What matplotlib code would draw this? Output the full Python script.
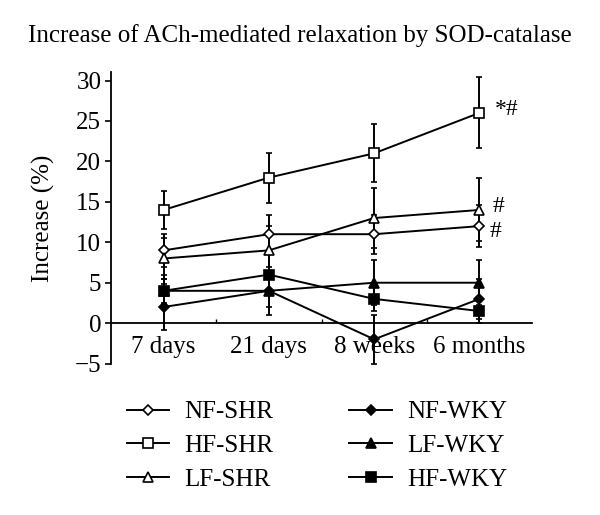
import matplotlib.pyplot as plt
from matplotlib.lines import Line2D

plt.rcParams['font.family'] = ['Liberation Serif', 'DejaVu Serif']

# time points
categories = ['7 days', '21 days', '8 weeks', '6 months']

# mean increase (%) and error for each group
nf_shr = [9, 11, 11, 12]
nf_shr_err = [2.0, 2.4, 2.4, 2.6]
hf_shr = [14, 18, 21, 26]
hf_shr_err = [2.4, 3.1, 3.6, 4.4]
lf_shr = [8, 9, 13, 14]
lf_shr_err = [2.5, 3.0, 3.7, 3.9]
nf_wky = [2, 4, -2, 3]
nf_wky_err = [2.9, 3.0, 3.0, 2.5]
lf_wky = [4, 4, 5, 5]
lf_wky_err = [1.5, 2.0, 2.8, 2.8]
hf_wky = [4, 6, 3, 1.5]
hf_wky_err = [2.0, 2.5, 1.5, 1.5]

yticks = [-5, 0, 5, 10, 15, 20, 25, 30]

series = [
    ('NF-SHR', nf_shr, nf_shr_err, 'D', 'white', 5.5),
    ('HF-SHR', hf_shr, hf_shr_err, 's', 'white', 7.5),
    ('LF-SHR', lf_shr, lf_shr_err, '^', 'white', 7),
    ('NF-WKY', nf_wky, nf_wky_err, 'D', 'black', 5.5),
    ('LF-WKY', lf_wky, lf_wky_err, '^', 'black', 7),
    ('HF-WKY', hf_wky, hf_wky_err, 's', 'black', 7.5),
]

fig = plt.figure(figsize=(6, 5.15), dpi=100)
ax = fig.add_axes([0.185, 0.294, 0.7017, 0.5653])

x = list(range(len(categories)))
handles = []
for name, vals, err, mk, fc, ms in series:
    ax.errorbar(x, vals, yerr=err, color='black', lw=1.4, elinewidth=1.4,
                capsize=2.5, capthick=1.2, marker=mk, mfc=fc, mec='black',
                mew=1.2, ms=ms, zorder=3)
    handles.append(Line2D([], [], color='black', lw=1.4, marker=mk, mfc=fc,
                          mec='black', mew=1.2, ms=ms, label=name))

# significance marks
ax.text(3.15, hf_shr[3] + 0.4, '*#', fontsize=17, va='center', ha='left')
ax.text(3.13, lf_shr[3] + 0.4, '#', fontsize=17, va='center', ha='left')
ax.text(3.10, nf_shr[3] - 0.7, '#', fontsize=17, va='center', ha='left')

ax.set_xlim(-0.5, 3.5)
ax.set_ylim(-5, 31)
ax.set_yticks(yticks)
ax.set_yticklabels(['\u22125' if t < 0 else str(t) for t in yticks])
ax.set_xticks(x)
ax.set_xticklabels(categories)
ax.set_xticks([0.5, 1.5, 2.5], minor=True)

ax.spines['top'].set_visible(False)
ax.spines['right'].set_visible(False)
ax.spines['bottom'].set_position(('data', 0))
for s in ax.spines.values():
    s.set_linewidth(1.3)

ax.tick_params(axis='y', direction='out', length=4, width=1.2, labelsize=18, pad=3)
ax.tick_params(axis='x', which='major', length=0, labelsize=18, pad=9)
ax.tick_params(axis='x', which='minor', direction='in', length=3, width=1.0)

ax.set_ylabel('Increase (%)', fontsize=18, labelpad=14)
fig.text(0.5, 0.932, 'Increase of ACh-mediated relaxation by SOD-catalase',
         ha='center', va='center', fontsize=18)

fig.legend(handles=handles, loc='upper left', bbox_to_anchor=(0.19, 0.246),
           ncol=2, frameon=False, fontsize=18, handlelength=1.7,
           columnspacing=3.05, labelspacing=0.45, handletextpad=0.6,
           borderpad=0)

fig.savefig('out.png', dpi=100)
